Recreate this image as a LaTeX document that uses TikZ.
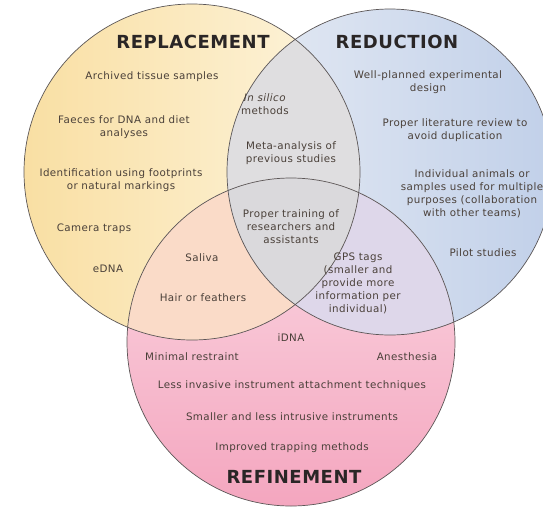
\documentclass[tikz,border=0pt]{standalone}
\usepackage{fontspec}
\setmainfont{DejaVu Sans}
\newfontfamily\fonteTexto[LetterSpace=4]{DejaVu Sans}
\newfontfamily\fonteTitulo[LetterSpace=3]{DejaVu Sans}
\usepackage{xcolor}
\usepackage{tikz}
\usetikzlibrary{positioning}
\definecolor{amareloEsc}{HTML}{F9DFA3}
\definecolor{amareloCla}{HTML}{FDF5DF}
\definecolor{azulEsc}{HTML}{C1D0E9}
\definecolor{azulCla}{HTML}{E6EBF4}
\definecolor{rosaEsc}{HTML}{F4A6BF}
\definecolor{rosaCla}{HTML}{FBDAE4}
\definecolor{cinzaRepRed}{HTML}{DFDEE0}
\definecolor{pessego}{HTML}{FADBC8}
\definecolor{lavanda}{HTML}{DED7EA}
\definecolor{cinzaCentro}{HTML}{DAD9DC}
\definecolor{bordaCor}{HTML}{5B5656}
\definecolor{textoCor}{HTML}{4A4039}
\definecolor{tituloCor}{HTML}{2A2626}
\tikzset{
    texto/.style={
        align=center,
        text=textoCor,
        inner sep=1pt,
        font=\fonteTexto\fontsize{10.3}{13}\selectfont
    },
    titulo/.style={
        text=tituloCor,
        inner sep=1pt,
        font=\fonteTitulo\fontsize{18}{20}\selectfont\bfseries
    },
    contorno/.style={draw=bordaCor, line width=0.7pt}
}

\begin{document}
\begin{tikzpicture}[x=1pt, y=-1pt]
    \useasboundingbox (0,0) rectangle (543,509);
    \fill[white] (0,0) rectangle (543,509);

    % centros dos tres circulos
    \coordinate (cRep) at (192,172);
    \coordinate (cRed) at (390,172);
    \coordinate (cRef) at (291,342);

    % preenchimentos
    \shade[left color=amareloEsc, right color=amareloCla] (cRep) circle[radius=168pt];
    \shade[left color=azulCla, right color=azulEsc] (cRed) circle[radius=163pt];
    \shade[top color=rosaCla, bottom color=rosaEsc] (cRef) circle[radius=164pt];
    \begin{scope}
        \clip (cRep) circle[radius=168pt];
        \fill[cinzaRepRed] (cRed) circle[radius=163pt];
        \fill[pessego] (cRef) circle[radius=164pt];
    \end{scope}
    \begin{scope}
        \clip (cRed) circle[radius=163pt];
        \fill[lavanda] (cRef) circle[radius=164pt];
    \end{scope}
    \begin{scope}
        \clip (cRep) circle[radius=168pt];
        \clip (cRed) circle[radius=163pt];
        \fill[cinzaCentro] (cRef) circle[radius=164pt];
    \end{scope}

    % contornos
    \draw[contorno] (cRep) circle[radius=168pt];
    \draw[contorno] (cRed) circle[radius=163pt];
    \draw[contorno] (cRef) circle[radius=164pt];

    % titulos
    \node[titulo] (replacement) at (193,42) {REPLACEMENT};
    \node[titulo] (reduction) at (397,42) {REDUCTION};
    \node[titulo] (refinement) at (294,477) {REFINEMENT};

    % so substituicao
    \node[texto] (arquivo) at (152,77) {Archived tissue samples};
    \node[texto] (fezes) at (124,127) {Faeces for DNA and diet\\analyses};
    \node[texto] (pegadas) at (121,180) {Identification using footprints\\or natural markings};
    \node[texto] (camera) at (94,229) {Camera traps};
    \node[texto] (edna) at (108,269) {eDNA};

    % so reducao
    \node[texto] (desenho) at (428,82) {Well-planned experimental\\design};
    \node[texto] (revisao) at (455,130) {Proper literature review to\\avoid duplication};
    \node[texto] (multiplo) at (472,194)
        {Individual animals or\\samples used for multiple\\purposes (collaboration\\with other teams)};
    \node[texto] (piloto) at (483,253) {Pilot studies};

    % intersecoes
    \node[texto] (silico) at (265,104) {\textit{In silico}\\methods};
    \node[texto] (meta) at (291,153) {Meta-analysis of\\previous studies};
    \node[texto] (treino) at (291,227) {Proper training of\\researchers and\\assistants};
    \node[texto] (saliva) at (202,258) {Saliva};
    \node[texto] (penas) at (203,298) {Hair or feathers};
    \node[texto] (gps) at (358,283)
        {GPS tags\\(smaller and\\provide more\\information per\\individual)};

    % so refinamento
    \node[texto] (idna) at (291,338) {iDNA};
    \node[texto] (contencao) at (192,357) {Minimal restraint};
    \node[texto] (anestesia) at (407,357) {Anesthesia};
    \node[texto] (fixacao) at (292,386) {Less invasive instrument attachment techniques};
    \node[texto, below=19.5pt of fixacao] (menores) {Smaller and less intrusive instruments};
    \node[texto, below=19.5pt of menores] (armadilha) {Improved trapping methods};
\end{tikzpicture}
\end{document}
